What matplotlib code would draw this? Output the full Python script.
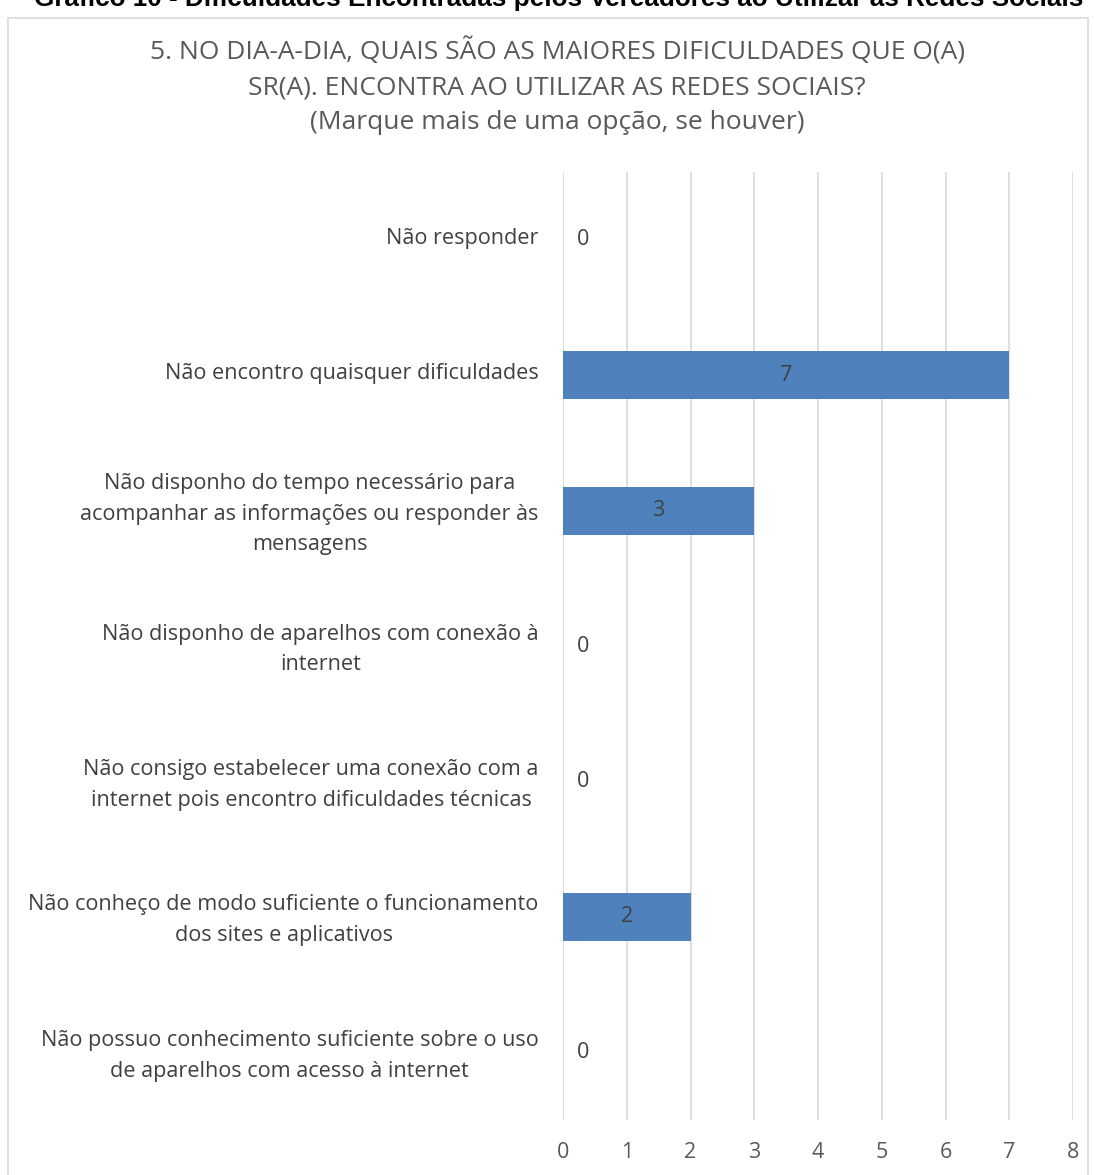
import matplotlib.pyplot as plt
import matplotlib.transforms as mtransforms
from matplotlib.patches import Rectangle

W, H = 1094, 1175

categorias = [
    "Não responder",
    "Não encontro quaisquer dificuldades",
    "Não disponho do tempo necessário para\nacompanhar as informações ou responder às\nmensagens",
    "Não disponho de aparelhos com conexão à\ninternet",
    "Não consigo estabelecer uma conexão com a\ninternet pois encontro dificuldades técnicas",
    "Não conheço de modo suficiente o funcionamento\ndos sites e aplicativos",
    "Não possuo conhecimento suficiente sobre o uso\nde aparelhos com acesso à internet",
]
valores = [0, 7, 3, 0, 0, 2, 0]
ticks_x = [0, 1, 2, 3, 4, 5, 6, 7, 8]

titulo_grafico = "Gráfico 10 - Dificuldades Encontradas pelos Vereadores ao Utilizar as Redes Sociais"
titulo = ("5. NO DIA-A-DIA, QUAIS SÃO AS MAIORES DIFICULDADES QUE O(A)\n"
          "SR(A). ENCONTRA AO UTILIZAR AS REDES SOCIAIS?\n"
          "(Marque mais de uma opção, se houver)")

plt.rcParams["font.family"] = ["Open Sans", "DejaVu Sans"]

fig = plt.figure(figsize=(W / 100, H / 100), dpi=100)

# moldura do grafico
fig.patches.append(Rectangle((8 / W, -0.05), 1080 / W, 1 - 18 / H + 0.05,
                             transform=fig.transFigure, fill=False,
                             edgecolor="#D9D9D9", linewidth=1.2))

# titulo do documento, cortado no topo como na imagem original
fig.text(559 / W, 1 - 6 / H, titulo_grafico, ha="center", va="baseline",
         fontsize=18.8, fontweight="bold", family="Liberation Sans", color="black")

fig.text(557 / W, 1 - 86 / H, titulo, ha="center", va="center",
         fontsize=19, color="#595959", linespacing=1.5)

ax = fig.add_axes([563 / W, 1 - 1120 / H, 510 / W, 948 / H])
y = list(range(len(categorias)))
ax.barh(y, valores, height=0.355, color="#4F81BD", zorder=3)
ax.set_xlim(0, 8)
ax.set_ylim(len(categorias) - 0.5, -0.5)
ax.set_xticks(ticks_x)
ax.set_xticklabels([str(t) for t in ticks_x], fontsize=15.5, color="#595959")
ax.set_yticks(y)
ax.set_yticklabels(categorias, fontsize=15.6, color="#404040",
                   multialignment="center", linespacing=1.62)
ax.tick_params(length=0)
ax.tick_params(axis="x", pad=16)
ax.tick_params(axis="y", pad=17.5)
ax.grid(axis="x", color="#D9D9D9", linewidth=1.2, zorder=0)
for s in ax.spines.values():
    s.set_visible(False)

# sobe um pouco os rotulos das categorias
desloc = mtransforms.ScaledTranslation(0, 4 / 100, fig.dpi_scale_trans)
for lbl in ax.get_yticklabels():
    lbl.set_transform(lbl.get_transform() + desloc)

for i, v in enumerate(valores):
    if v > 0:
        ax.text(v / 2, i, str(v), ha="center", va="center", fontsize=15.5,
                color="#404040", zorder=4)
    else:
        ax.text(0.32, i, str(v), ha="center", va="center", fontsize=15.5,
                color="#404040", zorder=4)

fig.savefig("out.png", dpi=100)
